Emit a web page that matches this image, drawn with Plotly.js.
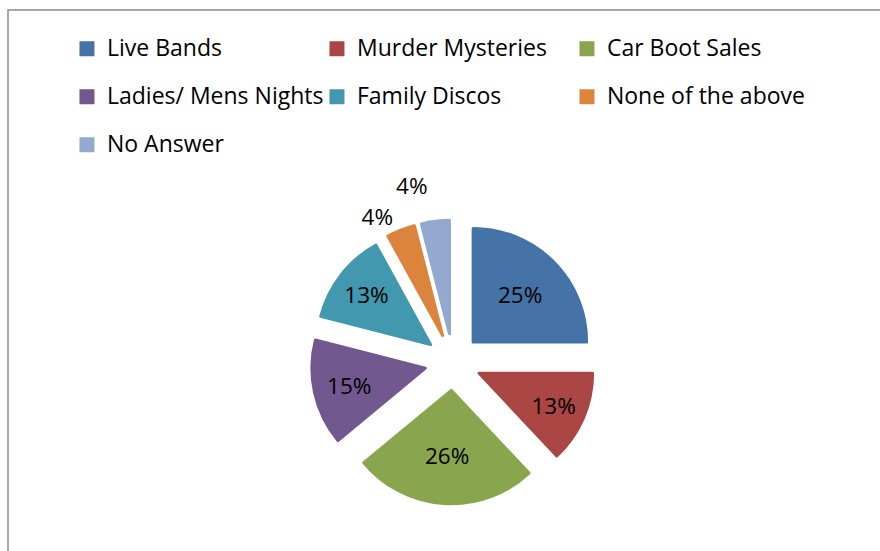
<!DOCTYPE html>
<html>
<head>
<meta charset="utf-8">
<script src="https://cdn.plot.ly/plotly-3.0.1.min.js"></script>
<style>
html,body{margin:0;padding:0;background:#fff;}
#chart{width:880px;height:551px;}
#chart path.textline{display:none;}
</style>
</head>
<body>
<div id="chart"></div>
<script>
var categories = ["Live Bands", "Murder Mysteries", "Car Boot Sales", "Ladies/ Mens Nights", "Family Discos", "None of the above", "No Answer"];
var shares = [25, 13, 26, 15, 13, 4, 4];
var sliceColors = ["#4572A7", "#AA4643", "#89A54E", "#71588F", "#4198AF", "#DB843D", "#93A9CF"];
var labelPositions = ["inside", "inside", "inside", "inside", "inside", "outside", "outside"];

// legend text drawn at 23px inside a taller legend line so rows are spaced like the original
var legendNames = categories.map(function (c) {
  return '<span style="font-size:23px;baseline-shift:6px">' + c + '</span>';
});

var trace = {
  type: "pie",
  labels: legendNames,
  values: shares,
  sort: false,
  direction: "clockwise",
  rotation: 0,
  pull: 0.25,
  marker: {colors: sliceColors, line: {width: 3, color: sliceColors}},
  textinfo: "percent",
  textposition: labelPositions,
  insidetextorientation: "horizontal",
  textfont: {family: "'Open Sans', sans-serif", size: 22.5, color: "#000"},
  hoverinfo: "percent",
  domain: {x: [0.3536, 0.6761], y: [0.0855, 0.6005]}
};

var layout = {
  width: 880,
  height: 551,
  margin: {l: 0, r: 0, t: 0, b: 0},
  paper_bgcolor: "#fff",
  showlegend: true,
  legend: {
    orientation: "h",
    x: 0.0761, xanchor: "left",
    y: 0.964, yanchor: "top",
    entrywidth: 205,
    font: {family: "'Open Sans', sans-serif", size: 34.6, color: "#000"},
    bgcolor: "rgba(0,0,0,0)"
  },
  shapes: [{
    type: "rect", xref: "paper", yref: "paper",
    x0: 8/880, x1: 1.05, y0: -0.05, y1: 1 - 10/551,
    line: {color: "#8c8c8c", width: 1.5}
  }]
};

Plotly.newPlot("chart", [trace], layout, {displayModeBar: false, staticPlot: true});
</script>
</body>
</html>
